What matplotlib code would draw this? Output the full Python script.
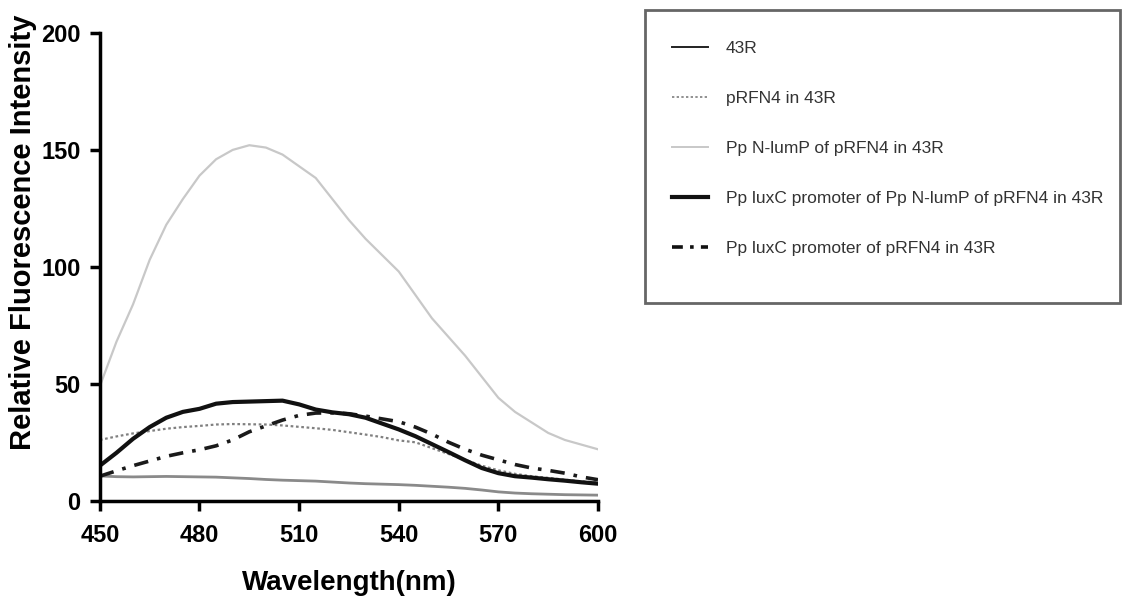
"""
Emission spectra of the 43R strain and its pRFN4 constructs
"""

import matplotlib
matplotlib.use("Agg")
import matplotlib.pyplot as plt
from matplotlib.lines import Line2D
from matplotlib.patches import Rectangle
import numpy as np


plt.rcParams["font.family"] = ["Liberation Sans", "DejaVu Sans"]

# wavelength grid (nm), 5 nm steps
wavelength = np.arange(450, 601, 5)

strain_43r = [10.6, 10.3, 10.2, 10.3, 10.4, 10.3, 10.2, 10.1, 9.8, 9.5, 9.1,
              8.8, 8.6, 8.4, 8.0, 7.6, 7.3, 7.1, 6.9, 6.6, 6.2, 5.8, 5.3,
              4.6, 3.8, 3.3, 3.0, 2.8, 2.6, 2.5, 2.4]

prfn4 = [26, 27.5, 28.8, 29.8, 30.8, 31.5, 32, 32.6, 32.8, 32.7, 32.6,
         32.2, 31.6, 31, 30.3, 29.3, 28.3, 27.2, 25.8, 25, 22.5, 20, 17.5,
         15, 13, 11.5, 10.5, 9.8, 9, 8.3, 7.8]

nlump = [49, 68, 84, 103, 118, 129, 139, 146, 150, 152, 151,
         148, 143, 138, 129, 120, 112, 105, 98, 88, 78, 70, 62,
         53, 44, 38, 33.5, 29, 26, 24, 22]

luxc_nlump = [15, 20.5, 26.5, 31.5, 35.5, 38, 39.3, 41.5, 42.2, 42.4, 42.6,
              42.8, 41.2, 39, 37.8, 37, 35.5, 33, 30.5, 27.6, 24.2, 20.8, 17.3,
              14, 11.8, 10.5, 9.9, 9.2, 8.6, 7.9, 7.3]

luxc_prfn4 = [10.5, 12.8, 15, 17, 19, 20.5, 21.8, 23.5, 26, 29.5, 32,
              34.5, 36.5, 37.5, 37.6, 37.2, 36.2, 35, 33.8, 31.5, 28.5, 25, 22,
              19.5, 17.5, 15.5, 14, 13, 11.8, 10.2, 9]

labels = [
    "43R",
    "pRFN4 in 43R",
    "Pp N-lumP of pRFN4 in 43R",
    "Pp luxC promoter of Pp N-lumP of pRFN4 in 43R",
    "Pp luxC promoter of pRFN4 in 43R",
]


fig = plt.figure(figsize=(11.22, 5.99), dpi=100)
ax = fig.add_axes([0.089, 0.164, 0.444, 0.781])

ax.plot(wavelength, strain_43r, color="#8a8a8a", lw=2.0)
ax.plot(wavelength, nlump, color="#c8c8c8", lw=1.6)
ax.plot(wavelength, prfn4, color="#808080", lw=1.6, linestyle=(0, (1.2, 1.2)))
ax.plot(wavelength, luxc_prfn4, color="#1a1a1a", lw=2.6,
        linestyle=(0, (4, 2.5, 1, 2.5)))
ax.plot(wavelength, luxc_nlump, color="#111111", lw=3.0)

ax.set_xlim(450, 600)
ax.set_ylim(0, 200)
ax.set_xticks([450, 480, 510, 540, 570, 600])
ax.set_yticks([0, 50, 100, 150, 200])

for side in ("top", "right"):
    ax.spines[side].set_visible(False)
for side in ("left", "bottom"):
    ax.spines[side].set_linewidth(2.5)
ax.tick_params(direction="out", length=7, width=2.5, labelsize=17, pad=7)
ax.tick_params(axis="x", pad=10)
for lbl in ax.get_xticklabels() + ax.get_yticklabels():
    lbl.set_fontweight("bold")

ax.set_xlabel("Wavelength(nm)", fontsize=20, fontweight="bold", labelpad=16)
ax.set_ylabel("Relative Fluorescence Intensity", fontsize=21, fontweight="bold")
ax.yaxis.set_label_coords(-0.127, 0.575)

# legend sits in its own box to the right of the plot
handles = [
    Line2D([], [], color="#222222", lw=1.4),
    Line2D([], [], color="#909090", lw=1.4, linestyle=(0, (1.2, 1.2))),
    Line2D([], [], color="#c8c8c8", lw=1.4),
    Line2D([], [], color="#111111", lw=3.0),
    Line2D([], [], color="#111111", lw=2.6, linestyle=(0, (3, 2, 1, 2))),
]
fig.legend(handles, labels, loc="upper left",
           bbox_to_anchor=(0.591, 0.946), frameon=False,
           fontsize=12.5, labelcolor="#333333", labelspacing=2.0,
           handlelength=2.1, handletextpad=1.03, borderpad=0)
fig.patches.append(Rectangle((0.575, 0.494), 0.423, 0.489,
                             transform=fig.transFigure, fill=False,
                             edgecolor="#666666", linewidth=2))

fig.savefig("out.png", dpi=100)
